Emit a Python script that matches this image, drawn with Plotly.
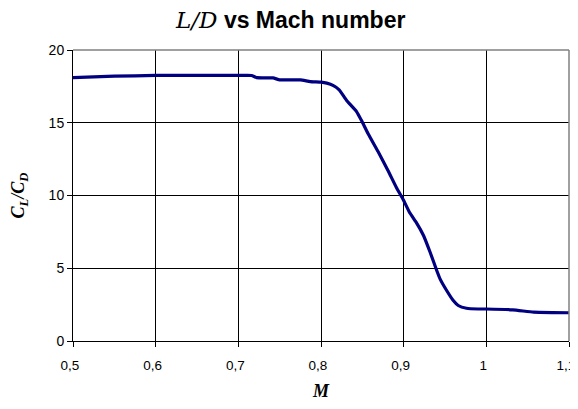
import plotly.graph_objects as go

mach = [0.5, 0.55, 0.6, 0.65, 0.7, 0.716, 0.722, 0.742, 0.75, 0.775, 0.787, 0.8,
        0.807, 0.815, 0.822, 0.831, 0.843, 0.849, 0.857, 0.869, 0.881, 0.891, 0.9,
        0.907, 0.915, 0.924, 0.932, 0.94, 0.944, 0.952, 0.96, 0.966, 0.976, 0.99,
        1.0, 1.032, 1.057, 1.08, 1.1]
ld = [18.1, 18.2, 18.25, 18.25, 18.25, 18.25, 18.1, 18.08, 17.95, 17.95, 17.83, 17.79,
      17.72, 17.55, 17.26, 16.53, 15.77, 15.15, 14.24, 13.02, 11.72, 10.57, 9.66,
      8.85, 8.17, 7.25, 6.1, 4.85, 4.27, 3.47, 2.78, 2.44, 2.25, 2.2,
      2.2, 2.14, 1.98, 1.95, 1.94]

x_tickvals = [0.5, 0.6, 0.7, 0.8, 0.9, 1.0, 1.1]
x_ticktext = ["0,5", "0,6", "0,7", "0,8", "0,9", "1", "1,1"]
y_tickvals = [0, 5, 10, 15, 20]
y_ticktext = ["0", "5", "10", "15", "20"]

fig = go.Figure()
fig.add_trace(go.Scatter(x=mach, y=ld, mode="lines",
                         line=dict(color="#000080", width=3.2, shape="spline", smoothing=0.4),
                         showlegend=False, hoverinfo="skip"))

serif = "Liberation Serif, Times New Roman, serif"
sans = "Liberation Sans, Arial, sans-serif"

# The page body has an 8px default margin, so the figure is sized to fit the
# 578x409 window starting at (8, 8) without overflowing the page.
fig.update_layout(
    width=570, height=393,
    margin=dict(l=65, r=9, t=42, b=60, autoexpand=False),
    paper_bgcolor="white", plot_bgcolor="white",
    title=dict(
        text=("<span style=\"font-family:'DejaVu Serif';font-weight:normal\"><i>L/D</i></span>"
              " <b>vs Mach number</b>"),
        x=0.496, xanchor="center", y=12 / 393 * -1 + 1, yanchor="middle",
        font=dict(family=sans, size=23, color="black")),
    xaxis=dict(
        range=[0.5, 1.1], tickvals=x_tickvals, ticktext=x_ticktext,
        automargin=False,
        showgrid=True, gridcolor="black", gridwidth=1,
        showline=True, linecolor="black", linewidth=1,
        ticks="outside", ticklen=5, tickcolor="black", tickwidth=1,
        tickfont=dict(family=sans, size=13.5, color="black"),
        ticklabeloverflow="allow", ticklabelstandoff=7, ticklabelshift=-3,
        zeroline=False,
        title=dict(text="<b><i>M</i></b>", font=dict(family=serif, size=18, color="black"),
                   standoff=18)),
    yaxis=dict(
        range=[0, 20], tickvals=y_tickvals, ticktext=y_ticktext,
        automargin=False,
        showgrid=True, gridcolor="black", gridwidth=1,
        showline=True, linecolor="black", linewidth=1,
        ticks="outside", ticklen=5, tickcolor="black", tickwidth=1,
        tickfont=dict(family=sans, size=14, color="black"),
        zeroline=False,
        title=dict(text="<b><i>C<sub>L</sub>/C<sub>D</sub></i></b>",
                   font=dict(family=serif, size=18, color="black"), standoff=26)),
    shapes=[
        dict(type="line", xref="paper", yref="paper", x0=0, x1=1, y0=1, y1=1,
             line=dict(color="#808080", width=1.5), layer="above"),
        dict(type="line", xref="paper", yref="paper", x0=1, x1=1, y0=0, y1=1,
             line=dict(color="#808080", width=1.5), layer="above"),
    ],
)

fig.write_html("out.html")
